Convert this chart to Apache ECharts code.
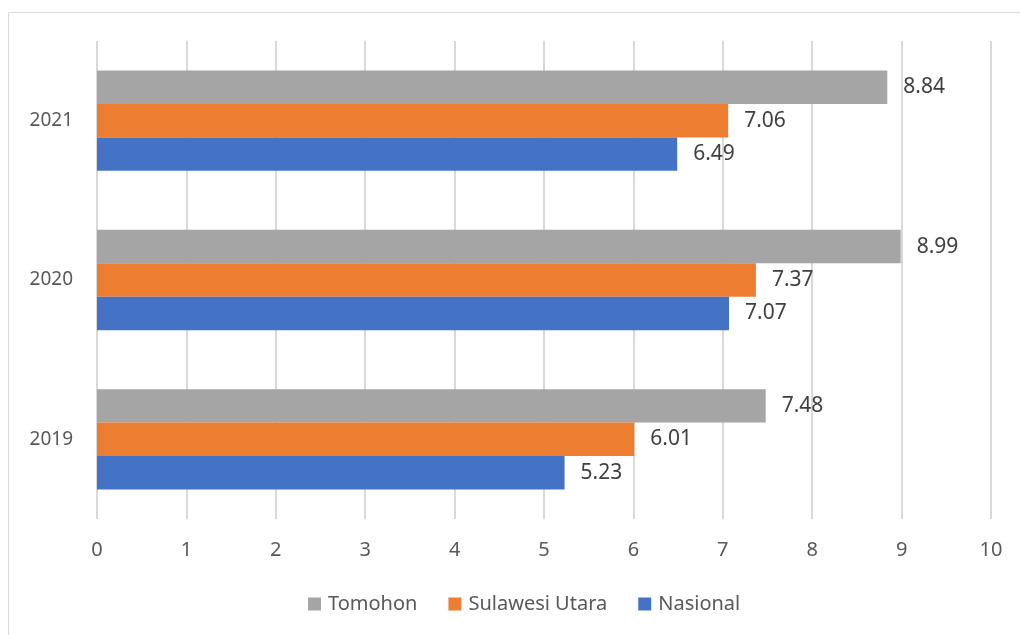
<!DOCTYPE html>
<html>
<head>
<meta charset="utf-8">
<script src="https://cdn.jsdelivr.net/npm/echarts@6/dist/echarts.min.js"></script>
<style>
  html, body { margin: 0; padding: 0; background: #fff; }
  #chart { width: 1020px; height: 635px; }
</style>
</head>
<body>
<div id="chart"></div>
<script>
var years = ['2019', '2020', '2021'];
var tomohon = [7.48, 8.99, 8.84];
var sulut = [6.01, 7.37, 7.06];
var nasional = [5.23, 7.07, 6.49];
var xTicks = [0, 10, 1];

var chart = echarts.init(document.getElementById('chart'));
var labelStyle = {
  show: true,
  position: 'right',
  distance: 16,
  fontSize: 21,
  color: '#404040',
  fontFamily: 'Noto Sans'
};
var option = {
  animation: false,
  textStyle: { fontFamily: 'Noto Sans' },
  color: ['#A5A5A5', '#ED7D31', '#4472C4'],
  graphic: [{
    type: 'rect',
    shape: { x: 8.5, y: 12.5, width: 1030, height: 650 },
    style: { fill: 'none', stroke: '#d9d9d9', lineWidth: 1 }
  }],
  legend: {
    bottom: 16,
    left: 303,
    itemWidth: 13,
    itemHeight: 13,
    itemGap: 31,
    icon: 'rect',
    textStyle: { fontSize: 20, color: '#595959', padding: [0, 0, 0, 2] },
    data: ['Tomohon', 'Sulawesi Utara', 'Nasional']
  },
  grid: { left: 97, right: 29, top: 41, bottom: 116 },
  xAxis: {
    type: 'value',
    min: xTicks[0],
    max: xTicks[1],
    interval: xTicks[2],
    axisLine: { show: false },
    axisTick: { show: false },
    axisLabel: { fontSize: 20, color: '#595959', margin: 21 },
    splitLine: { lineStyle: { color: '#d9d9d9', width: 2 } }
  },
  yAxis: {
    type: 'category',
    data: years,
    axisLine: { show: false },
    axisTick: { show: false },
    axisLabel: { fontSize: 19, color: '#595959', margin: 24 }
  },
  series: [
    { name: 'Tomohon', type: 'bar', data: tomohon, barGap: '0%', barCategoryGap: '37%', label: labelStyle },
    { name: 'Sulawesi Utara', type: 'bar', data: sulut, barGap: '0%', barCategoryGap: '37%', label: labelStyle },
    { name: 'Nasional', type: 'bar', data: nasional, barGap: '0%', barCategoryGap: '37%', label: labelStyle }
  ]
};
chart.setOption(option);
window.addEventListener('resize', function () { chart.resize(); });
</script>
</body>
</html>
